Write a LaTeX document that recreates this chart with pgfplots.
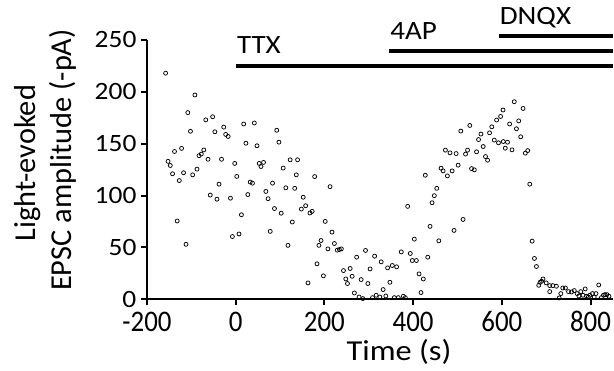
\documentclass[border=0pt]{standalone}
\usepackage{fontspec}
\setmainfont{Carlito}
\usepackage{pgfplots}
\pgfplotsset{compat=1.18}
\begin{document}
\begin{tikzpicture}
\useasboundingbox (0,0) rectangle (614bp,371bp);
\begin{axis}[
  at={(147bp,71.7bp)}, anchor=south west,
  width=465.7bp, height=259.3bp, scale only axis,
  xmin=-200, xmax=850, ymin=0, ymax=250,
  axis x line*=bottom, axis y line*=left,
  axis line style={line width=2bp, black},
  xtick={-200,0,200,400,600,800}, ytick={0,50,100,150,200,250},
  tick align=outside, major tick length=6bp,
  tick style={line width=2bp, black},
  minor tick num=0,
  /pgf/number format/assume math mode=true,
  /pgf/number format/1000 sep={},
  yticklabel style={font=\fontsize{25}{30}\selectfont, xscale=1.1, anchor=east, inner sep=0pt, xshift=-4bp},
  xticklabel style={font=\fontsize{30}{34}\selectfont, xscale=0.9, anchor=base, inner sep=0pt, yshift=-25.7bp},
  clip=false,
]
\addplot[line width=4bp, no marks] coordinates {(0,225) (850,225)};
\addplot[line width=4bp, no marks] coordinates {(345.5,239) (850,239)};
\addplot[line width=4bp, no marks] coordinates {(594.4,253.6) (850,253.6)};
\node[anchor=base west, inner sep=0pt, yshift=12bp, xscale=1.1, font=\fontsize{26.5}{30}\selectfont] at (axis cs:2.5,225) {TTX};
\node[anchor=base west, inner sep=0pt, yshift=12bp, xscale=1.1, font=\fontsize{26.5}{30}\selectfont] at (axis cs:348.4,239) {4AP};
\node[anchor=base west, inner sep=0pt, yshift=11.3bp, xscale=1.1, font=\fontsize{26.5}{30}\selectfont] at (axis cs:595,253.6) {DNQX};
\addplot[only marks, mark=o, mark size=2.0bp, mark options={line width=0.75bp, black}] coordinates {
(-158,218) (-92,197) (-108,180) (-67.5,173) (-52,176) (-102,162) (-47,161.5) (-27,166)
(-22.6,159) (-17,157) (18,169) (42,170) (92.5,163) (23,150.5) (97.5,151.5) (48,148)
(-138,142.5) (-122,145.5) (-72,144) (-77.6,140) (-82.7,138.5) (-62.4,135) (-32,135)
(-152.5,133) (-147.5,129) (-142.4,121) (-117.6,122) (-97,120) (-87.3,125.5) (-127.2,114.5)
(-2.2,131) (2.4,118.5) (53,131) (57,128) (62.7,132) (122.8,134.5) (139.5,134.5) (107,126.5)
(136.6,120) (-37.6,111) (-57.4,100.5) (-42.2,96.5) (-11.8,97.5) (32.7,113) (37.8,112)
(27.3,101) (83,112) (68,104) (73,97) (113,107.5) (133,107) (87.4,87.5) (102.6,83)
(12.9,81.5) (127.6,74.5) (-132,75.5) (77.8,65.5) (-7.5,60.5) (7.4,63) (-112,53) (117.8,52)
(178,118.3) (212.7,108.6) (152.2,98.4) (157.7,90.2) (148,87) (172.4,84.8) (167.4,83.2)
(201.8,75.1) (217,64.8) (192.4,56.7) (187.6,52) (222.5,53.8) (207.9,48.6) (229,47.4)
(233.8,48) (238.2,48.6) (183.3,34.2) (197.7,22.6) (163,15.8) (292.7,47.1) (272.7,40.6)
(313.2,41.6) (328,36.1) (303,29.3) (243,27.7) (258,29.7) (342.5,30.3) (353,32.6) (362.8,31.3)
(248.2,19.6) (252,15.2) (262.5,22.2) (282.8,19) (298,15.2) (347.6,16.4) (332.4,9.4)
(267.6,6.1) (278.2,2.2) (286.6,0.7) (308.6,1.6) (316.7,3.9) (325,2.2) (338.5,3.2)
(357.5,1.6) (366.5,1.6) (378,2.9) (382.4,1.6) (373.3,45.7) (393.6,44.2) (398.2,37.4)
(407.3,37.4) (413.4,24.5) (423,19.6) (417.8,6.5) (433,40.6) (402.7,58) (387.7,89.6)
(427.5,119.6) (438.2,70.3) (457.9,56.4) (442.7,93.1) (447.8,99.9) (453.4,107) (463,126.4)
(467.6,123.8) (477.2,119) (488,123.8) (472.8,143.8) (483.2,141.2) (497,140.5) (501.5,129.3)
(492.3,66.4) (512.6,77) (507.5,162.2) (527.8,167.6) (518.2,140) (522.7,143.8) (531.8,126)
(538,124.8) (543,142.2) (547.5,154) (552.9,159.3) (558,147.3) (563.2,137.6) (567.9,134.1)
(572.3,160.5) (577.4,166.3) (583,153.5) (592.5,150.9) (588.2,172.8) (597.2,176.3)
(602.7,182.5) (603.3,152.1) (607.8,145.7) (612.8,151.5) (623,144.1) (617.6,169) (628,190.5)
(638,172) (633,164.4) (647.9,184) (642.6,156.7) (653,140.9) (658.4,143.4) (663,111)
(668.3,56.1) (673.5,39.4) (678,31.6) (692.8,19.6) (689.7,17.4) (686.3,16.4) (683.3,13.5)
(700,15.8) (708,13.2) (715,13.2) (723,12.6) (708,7.4) (729.3,1.3) (733,5.5) (737.4,10.9)
(743.4,10.9) (750.5,7.4) (757.2,7.1) (763.3,8.4) (769.8,5.5) (778,7.4) (788,10) (773.8,3.2)
(783,3.9) (791,2.9) (798.6,3.9) (804.2,5.5) (812.3,5.5) (818.4,13.8) (824.4,1.6) (829,3.9)
(832.5,4.5) (837,4.5) (841.6,2.9) (808.2,2.2) (795,2.2)
};
\end{axis}
\node[rotate=90, anchor=base, inner sep=0pt, font=\fontsize{30.5}{34}\selectfont] at (35bp,207.7bp) {Light-evoked};
\node[rotate=90, anchor=base, inner sep=0pt, font=\fontsize{30.5}{34}\selectfont] at (71.7bp,211bp) {EPSC amplitude (-pA)};
\node[anchor=base, inner sep=0pt, xscale=1.12, font=\fontsize{29}{33}\selectfont] at (399bp,11bp) {Time (s)};
\end{tikzpicture}
\end{document}
